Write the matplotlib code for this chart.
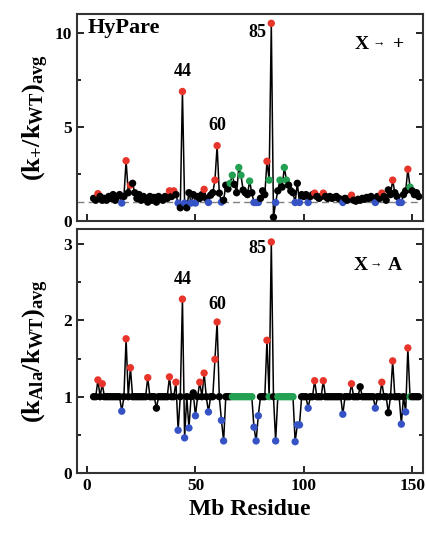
import matplotlib
matplotlib.use("Agg")
import matplotlib.pyplot as plt
from matplotlib.ticker import MultipleLocator
from matplotlib.transforms import offset_copy

plt.rcParams["font.family"] = ["Liberation Serif", "DejaVu Serif"]
plt.rcParams["font.weight"] = "bold"
plt.rcParams["mathtext.fontset"] = "custom"
plt.rcParams["mathtext.rm"] = "Liberation Serif:bold"
plt.rcParams["mathtext.it"] = "Liberation Serif:bold"
plt.rcParams["mathtext.bf"] = "Liberation Serif:bold"

# residues 3..153
residues = list(range(3, 154))

# X -> + (HyPare) rate ratios
k_plus = [
    1.2, 1.1, 1.45, 1.3, 1.1, 1.2, 1.1, 1.3, 1.2, 1.4,      # 3-12
    1.1, 1.3, 1.4, 0.95, 1.3, 3.2, 1.5, 1.9, 2.0, 1.5,      # 13-22
    1.2, 1.4, 1.1, 1.3, 1.2, 1.0, 1.3, 1.1, 1.25, 1.0,      # 23-32
    1.3, 1.2, 1.1, 1.3, 1.2, 1.6, 1.3, 1.6, 1.4, 0.95,      # 33-42
    0.7, 6.88, 0.95, 0.7, 1.5, 0.95, 1.4, 0.95, 1.3, 1.2,   # 43-52
    1.4, 1.68, 1.2, 0.98, 1.37, 1.5, 2.17, 4.0, 1.48, 1.0,  # 53-62
    1.1, 1.9, 1.7, 2.0, 2.43, 1.94, 1.5, 2.84, 2.43, 1.64,  # 63-72
    1.5, 1.4, 2.12, 1.5, 0.98, 0.98, 0.98, 1.2, 1.6, 1.4,   # 73-82
    3.17, 2.17, 10.5, 0.2, 0.98, 1.6, 2.17, 1.8, 2.84, 2.17,  # 83-92
    1.9, 1.6, 1.5, 0.98, 2.0, 0.98, 1.4, 1.3, 1.4, 0.98,    # 93-102
    1.3, 1.4, 1.48, 1.3, 1.2, 1.3, 1.48, 1.3, 1.2, 1.3,     # 103-112
    1.2, 1.25, 1.3, 1.2, 1.15, 0.98, 1.2, 1.1, 1.2, 1.37,   # 113-122
    1.1, 1.05, 1.15, 1.1, 1.2, 1.15, 1.25, 1.2, 1.3, 1.2,   # 123-132
    0.98, 1.3, 1.2, 1.48, 1.3, 1.1, 1.65, 1.4, 2.17, 1.5,   # 133-142
    1.3, 0.98, 0.98, 1.4, 1.6, 2.75, 1.8, 1.6, 1.4, 1.5,    # 143-152
    1.3,                                                    # 153
]
red_plus = [5, 18, 20, 38, 40, 44, 54, 59, 60, 83, 85, 105, 109, 122, 136, 141, 148]
blue_plus = [16, 42, 45, 48, 50, 56, 62, 77, 78, 79, 87, 96, 98, 102, 118, 133, 144, 145]
green_plus = [66, 67, 70, 71, 75, 84, 89, 91, 92, 149]

# X -> A rate ratios
k_ala = [
    1.0, 1.0, 1.22, 1.0, 1.17, 1.0, 1.0, 1.0, 1.0, 1.0,     # 3-12
    1.0, 1.0, 1.0, 0.81, 1.0, 1.76, 1.0, 1.38, 1.0, 1.0,    # 13-22
    1.0, 1.0, 1.0, 1.0, 1.0, 1.25, 1.0, 1.0, 1.0, 0.85,     # 23-32
    1.0, 1.0, 1.0, 1.0, 1.0, 1.26, 1.0, 1.0, 1.19, 0.56,    # 33-42
    1.0, 2.28, 0.46, 1.0, 0.59, 1.0, 1.05, 0.75, 1.0, 1.19, # 43-52
    1.0, 1.31, 1.0, 0.8, 1.0, 1.0, 1.49, 1.98, 1.0, 0.69,   # 53-62
    0.42, 1.0, 1.0, 1.0, 1.0, 1.0, 1.0, 1.0, 1.0, 1.0,      # 63-72
    1.0, 1.0, 1.0, 1.0, 0.6, 0.42, 0.75, 1.0, 1.0, 1.0,     # 73-82
    1.74, 1.0, 3.03, 1.0, 0.42, 1.0, 1.0, 1.0, 1.0, 1.0,    # 83-92
    1.0, 1.0, 1.0, 0.41, 0.63, 0.63, 1.0, 1.0, 1.0, 0.85,   # 93-102
    1.0, 1.0, 1.21, 1.0, 1.0, 1.0, 1.21, 1.0, 1.0, 1.0,     # 103-112
    1.0, 1.0, 1.0, 1.0, 1.0, 0.77, 1.0, 1.0, 1.0, 1.17,     # 113-122
    1.0, 1.0, 1.0, 1.13, 1.0, 1.0, 1.0, 1.0, 1.0, 1.0,      # 123-132
    0.85, 1.0, 1.0, 1.19, 1.0, 1.0, 0.79, 1.0, 1.47, 1.0,   # 133-142
    1.0, 1.0, 0.64, 1.0, 0.8, 1.64, 1.0, 1.0, 1.0, 1.0,     # 143-152
    1.0,                                                    # 153
]
red_ala = [5, 7, 18, 20, 28, 38, 41, 44, 52, 54, 59, 60, 83, 85, 105, 109, 122, 136, 141, 148]
blue_ala = [16, 42, 45, 47, 50, 56, 62, 63, 77, 78, 79, 87, 96, 97, 98, 102, 118, 133, 145, 147]
green_ala = [67, 68, 69, 70, 71, 72, 73, 74, 75, 76, 84, 88, 89, 90, 91, 92, 93, 94, 95, 149]

RED = "#e8352b"
BLUE = "#3553c4"
GREEN = "#23a052"


def draw_panel(ax, vals, reds, blues, greens):
    ax.plot(residues, vals, color="black", lw=1.1, zorder=2)
    cols = []
    for r in residues:
        if r in reds:
            cols.append(RED)
        elif r in blues:
            cols.append(BLUE)
        elif r in greens:
            cols.append(GREEN)
        else:
            cols.append("black")
    ax.scatter(residues, vals, s=28, c=cols, linewidths=0, zorder=3)
    ax.set_xlim(-4.6, 155)
    ax.tick_params(direction="in", which="both", left=True, right=True,
                   top=False, bottom=True, labelsize=12.5, width=1.2)
    ax.tick_params(which="major", length=5)
    ax.tick_params(which="minor", length=3)
    ax.xaxis.set_major_locator(MultipleLocator(50))
    for s in ax.spines.values():
        s.set_linewidth(1.5)
        s.set_color("#333333")
    for lab in ax.get_xticklabels() + ax.get_yticklabels():
        lab.set_fontweight("bold")


def mutation_tag(ax, target, xs, y):
    # "X -> target" on a common baseline, small arrow in between
    ax.text(xs[0], y, "X", transform=ax.transAxes, fontsize=14,
            fontweight="bold", ha="center", va="baseline")
    arr_tr = offset_copy(ax.transAxes, fig=ax.figure, y=1.5, units="points")
    ax.text(xs[1], y, "→", transform=arr_tr, fontsize=9,
            fontweight="bold", ha="center", va="baseline")
    ax.text(xs[2], y, target, transform=ax.transAxes, fontsize=14,
            fontweight="bold", ha="center", va="baseline")


fig = plt.figure(figsize=(4.26, 5.35), dpi=100)
ax1 = fig.add_axes([0.181, 0.587, 0.812, 0.387])
ax2 = fig.add_axes([0.181, 0.116, 0.812, 0.456])

ax1.axhline(1.0, color="gray", lw=1.0, ls=(0, (5, 3)), zorder=1)
draw_panel(ax1, k_plus, red_plus, blue_plus, green_plus)
ax1.set_ylim(0, 11)
ax1.yaxis.set_major_locator(MultipleLocator(5))
ax1.yaxis.set_minor_locator(MultipleLocator(2.5))
ax1.tick_params(labelbottom=False)
ax1.set_ylabel(r"$\mathrm{(k_{+}/k_{WT})_{avg}}$", fontsize=19)
ax1.yaxis.set_label_coords(-0.075, 0.5)
ax1.text(0.03, 0.93, "HyPare", transform=ax1.transAxes, fontsize=16,
         fontweight="bold", va="center", ha="left")
mutation_tag(ax1, "+", (0.823, 0.872, 0.928), 0.829)
ax1.text(44, 7.5, "44", fontsize=13, fontweight="bold", ha="center", va="bottom")
ax1.text(60, 4.6, "60", fontsize=13, fontweight="bold", ha="center", va="bottom")
ax1.text(82.5, 10.0, "85", fontsize=13, fontweight="bold", ha="right", va="center")

draw_panel(ax2, k_ala, red_ala, blue_ala, green_ala)
ax2.set_ylim(0, 3.2)
ax2.yaxis.set_major_locator(MultipleLocator(1))
ax2.yaxis.set_minor_locator(MultipleLocator(0.5))
ax2.set_ylabel(r"$\mathrm{(k_{Ala}/k_{WT})_{avg}}$", fontsize=19)
ax2.yaxis.set_label_coords(-0.075, 0.5)
ax2.set_xlabel("Mb Residue", fontsize=17, fontweight="bold", labelpad=4)
mutation_tag(ax2, "A", (0.82, 0.862, 0.918), 0.833)
ax2.text(44, 2.42, "44", fontsize=13, fontweight="bold", ha="center", va="bottom")
ax2.text(60, 2.1, "60", fontsize=13, fontweight="bold", ha="center", va="bottom")
ax2.text(82.5, 2.94, "85", fontsize=13, fontweight="bold", ha="right", va="center")

fig.savefig("out.png", dpi=100)
